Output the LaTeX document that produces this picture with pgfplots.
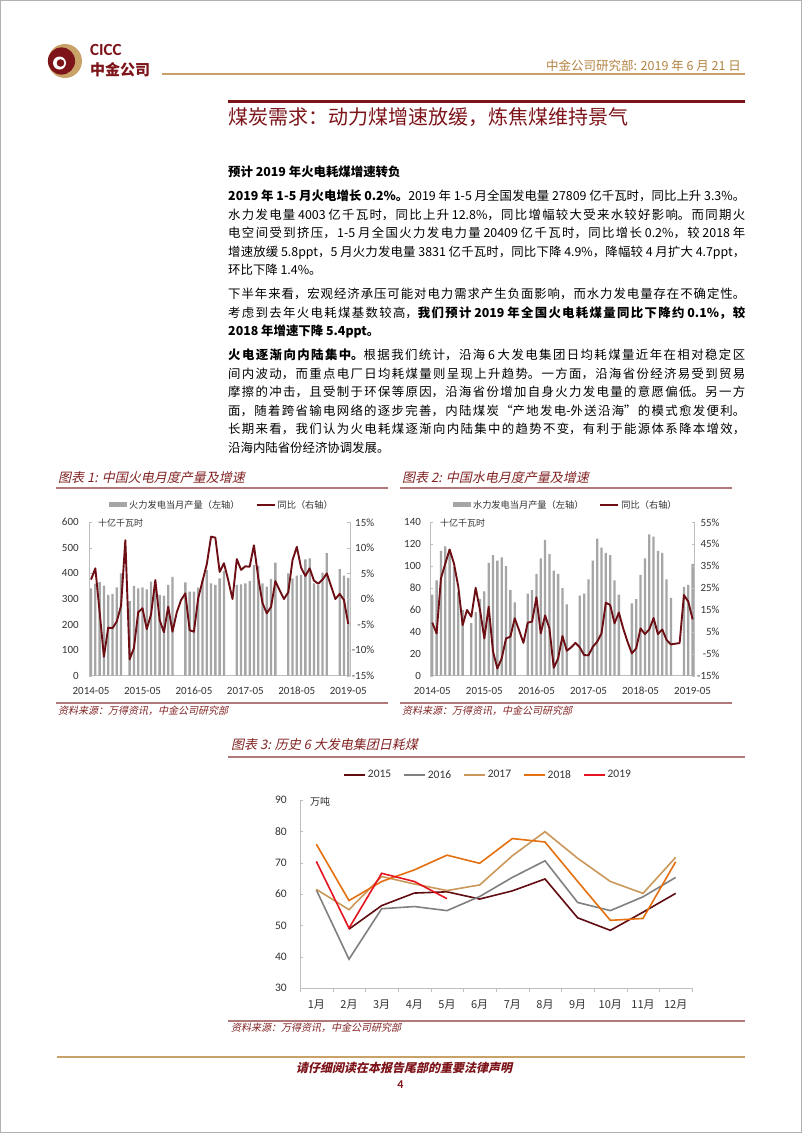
\documentclass[border=0pt]{standalone}
\usepackage{fontspec}
\usepackage{pgfplots}
\usepackage{pgfplotstable}
\pgfplotsset{compat=1.18}
\setmainfont{Carlito}
\newfontfamily\cjk{Noto Sans CJK SC}
\newfontfamily\cjkit[FakeSlant=0.22]{Noto Sans CJK SC}
\XeTeXlinebreaklocale "zh"
\definecolor{cred}{RGB}{125,20,26}
\definecolor{maroon}{RGB}{108,14,20}
\definecolor{gold}{RGB}{201,162,104}
\definecolor{goldtxt}{RGB}{180,130,64}
\definecolor{barg}{RGB}{166,166,166}
\definecolor{axg}{RGB}{190,190,190}
\definecolor{ttl}{RGB}{130,35,35}
\definecolor{rulec}{RGB}{176,120,120}
\definecolor{cA}{RGB}{96,12,16}
\definecolor{cB}{RGB}{128,128,128}
\definecolor{cC}{RGB}{202,152,90}
\definecolor{cD}{RGB}{228,112,16}
\definecolor{cE}{RGB}{230,20,32}
\newcommand{\bodyfont}{\cjk\fontsize{12.4}{14}\selectfont}
\newcommand{\jline}[2]{\node[anchor=base west, inner sep=0pt, text width=517pt, align=justify, font=\bodyfont] at (228pt,{-(#1+4.7)*1pt}) {\noindent\XeTeXlinebreakskip=0pt plus 1fil minus 1pt\parfillskip=0pt #2\par};}
\newcommand{\rline}[2]{\node[anchor=base west, inner sep=0pt, font=\bodyfont] at (228pt,{-(#1+4.7)*1pt}) {#2};}

\pgfplotstableread{
i bar yoy
0 342 3.8
1 360 6.0
2 366 -2.5
3 352 -11.3
4 316 -5.6
5 320 -5.7
6 346 -4.4
7 400 -1.3
8 nan 11.5
9 292 -11.8
10 351 -9.6
11 342 -2.6
12 346 -1.8
13 338 -5.9
14 368 -3.0
15 345 3.7
16 316 -4.1
17 313 -6.5
18 355 -1.5
19 387 -6.4
20 nan -2.6
21 nan -0.2
22 365 1.1
23 329 -6.1
24 329 -6.4
25 345 0.2
26 374 3.5
27 413 6.8
28 361 12.2
29 355 12.0
30 381 5.3
31 410 7.0
32 nan 3.7
33 nan 0.0
34 355 7.8
35 357 5.7
36 361 6.4
37 370 6.3
38 433 10.5
39 430 4.2
40 361 -0.8
41 348 -2.8
42 378 -1.5
43 442 3.5
44 nan 1.7
45 nan 0.0
46 400 1.3
47 381 7.6
48 391 10.2
49 394 6.1
50 455 4.5
51 459 6.0
52 361 3.6
53 355 3.0
54 403 3.8
55 479 5.0
56 nan 2.5
57 nan 0.0
58 417 1.0
59 391 -0.2
60 383 -4.9
}\thermal

\pgfplotstableread{
i bar yoy
0 74 9.2
1 87 4.3
2 114 29.4
3 118 36.2
4 115 42.6
5 99 36.2
6 76 25.6
7 60 8.1
8 nan 15.0
9 48 11.9
10 58 25.1
11 70 15.0
12 77 2.0
13 103 16.5
14 110 -4.0
15 105 -11.7
16 108 -7.1
17 100 2.0
18 78 2.8
19 67 11.2
20 nan 5.8
21 nan 0.0
22 75 9.2
23 78 9.7
24 93 20.8
25 107 4.3
26 124 12.5
27 111 6.6
28 96 -11.4
29 93 -7.1
30 80 3.1
31 65 -3.6
32 nan -2.1
33 nan 0.0
34 73 -2.1
35 75 -5.6
36 88 -5.7
37 105 -1.8
38 125 0.5
39 117 4.3
40 112 18.3
41 110 17.3
42 87 8.9
43 74 13.8
44 nan 6.6
45 nan 0.5
46 66 -4.8
47 70 -2.5
48 92 6.6
49 107 4.0
50 129 6.1
51 127 11.3
52 114 4.0
53 112 6.1
54 88 1.3
55 71 -0.7
56 nan -0.4
57 nan -0.1
58 81 21.8
59 83 18.8
60 102 10.7
}\hydro

\begin{document}
\begin{tikzpicture}
\useasboundingbox (0pt,0pt) rectangle (802pt,-1133pt);
\fill[white] (0pt,0pt) rectangle (802pt,-1133pt);
\draw[gray!60, line width=1pt] (0.5pt,-0.5pt) rectangle (801.5pt,-1132.5pt);

% header logo
\fill[gold] (65pt,-61pt) circle (17pt);
\fill[cred] (61.5pt,-61pt) circle (13.6pt);
\fill[white] (59.5pt,-63pt) circle (6.5pt);
\fill[cred] (60.5pt,-63pt) circle (3.8pt);
\node[anchor=west, inner sep=0pt, text=cred, font=\bfseries\fontsize{17}{18}\selectfont] at (90pt,-50pt) {CICC};
\node[anchor=west, inner sep=0pt, text=cred, font=\cjk\bfseries\fontsize{15}{16}\selectfont] at (90pt,-70pt) {中金公司};
\node[anchor=east, inner sep=0pt, text=goldtxt, font=\cjk\fontsize{12.5}{14}\selectfont] at (741pt,-66pt) {中金公司研究部: 2019 年 6 月 21 日};
\draw[gold, line width=2pt] (162pt,-74pt) -- (745pt,-74pt);
\draw[cred, line width=3pt] (228pt,-101pt) -- (745pt,-101pt);
\node[anchor=west, inner sep=0pt, text=cred, font=\cjk\fontsize{20}{22}\selectfont] at (228pt,-117pt) {煤炭需求：动力煤增速放缓，炼焦煤维持景气};

% body text
\rline{172}{\bfseries 预计 2019 年火电耗煤增速转负}
\jline{196}{{\bfseries 2019 年 1-5 月火电增长 0.2\%。}2019 年 1-5 月全国发电量 27809 亿千瓦时，同比上升 3.3\%。}
\jline{214.5}{水力发电量 4003 亿千瓦时，同比上升 12.8\%，同比增幅较大受来水较好影响。而同期火}
\jline{233}{电空间受到挤压，1-5 月全国火力发电力量 20409 亿千瓦时，同比增长 0.2\%，较 2018 年}
\jline{251.5}{增速放缓 5.8ppt，5 月火力发电量 3831 亿千瓦时，同比下降 4.9\%，降幅较 4 月扩大 4.7ppt，}
\rline{270}{环比下降 1.4\%。}
\jline{294}{下半年来看，宏观经济承压可能对电力需求产生负面影响，而水力发电量存在不确定性。}
\jline{312.5}{考虑到去年火电耗煤基数较高，{\bfseries 我们预计 2019 年全国火电耗煤量同比下降约 0.1\%，较}}
\rline{331}{\bfseries 2018 年增速下降 5.4ppt。}
\jline{355}{{\bfseries 火电逐渐向内陆集中。}根据我们统计，沿海 6 大发电集团日均耗煤量近年在相对稳定区}
\jline{373.5}{间内波动，而重点电厂日均耗煤量则呈现上升趋势。一方面，沿海省份经济易受到贸易}
\jline{392}{摩擦的冲击，且受制于环保等原因，沿海省份增加自身火力发电量的意愿偏低。另一方}
\jline{410.5}{面，随着跨省输电网络的逐步完善，内陆煤炭“产地发电-外送沿海”的模式愈发便利。}
\jline{429}{长期来看，我们认为火电耗煤逐渐向内陆集中的趋势不变，有利于能源体系降本增效，}
\rline{447.5}{沿海内陆省份经济协调发展。}

% chart frames
\node[anchor=west, inner sep=0pt, text=ttl, font=\cjkit\fontsize{13}{14}\selectfont] at (58pt,-478pt) {图表 1: 中国火电月度产量及增速};
\node[anchor=west, inner sep=0pt, text=ttl, font=\cjkit\fontsize{13}{14}\selectfont] at (402pt,-478pt) {图表 2: 中国水电月度产量及增速};
\node[anchor=west, inner sep=0pt, text=ttl, font=\cjkit\fontsize{13}{14}\selectfont] at (231pt,-745pt) {图表 3: 历史 6 大发电集团日耗煤};
\draw[rulec, line width=1.2pt] (56pt,-488pt) -- (388pt,-488pt);
\draw[rulec, line width=1.2pt] (400pt,-488pt) -- (732pt,-488pt);
\draw[rulec, line width=1.2pt] (228pt,-757pt) -- (745pt,-757pt);
\draw[rulec, line width=1.2pt] (56pt,-703pt) -- (388pt,-703pt);
\draw[rulec, line width=1.2pt] (400pt,-703pt) -- (732pt,-703pt);
\draw[rulec, line width=1.2pt] (228pt,-1021pt) -- (745pt,-1021pt);
\node[anchor=west, inner sep=0pt, text=ttl, font=\cjkit\fontsize{10}{11}\selectfont] at (58pt,-711pt) {资料来源：万得资讯，中金公司研究部};
\node[anchor=west, inner sep=0pt, text=ttl, font=\cjkit\fontsize{10}{11}\selectfont] at (402pt,-711pt) {资料来源：万得资讯，中金公司研究部};
\node[anchor=west, inner sep=0pt, text=ttl, font=\cjkit\fontsize{10}{11}\selectfont] at (231pt,-1028pt) {资料来源：万得资讯，中金公司研究部};
\node[anchor=west, inner sep=0pt, text=black!80, font=\cjk\fontsize{9}{10}\selectfont] at (98pt,-523pt) {十亿千瓦时};
\node[anchor=west, inner sep=0pt, text=black!80, font=\cjk\fontsize{9}{10}\selectfont] at (440pt,-523pt) {十亿千瓦时};
\node[anchor=west, inner sep=0pt, text=black!80, font=\cjk\fontsize{10}{11}\selectfont] at (310pt,-802pt) {万吨};

\pgfplotsset{
  dualbase/.style={anchor=south west, scale only axis, height=153.4pt,
    xmin=-0.5, xmax=60.5,
    axis line style={draw=axg, line width=0.8pt},
    tick align=inside, major tick length=3pt,
    ticklabel style={font=\fontsize{11}{12}\selectfont, text=black!80, inner sep=0pt}},
}

% chart 1 bars
\begin{axis}[dualbase, at={(88.9pt,-675.7pt)}, width=261.5pt,
  ymin=0, ymax=600,
  axis x line*=bottom, axis y line*=left,
  xtick={0,12,24,36,48,60},
  xticklabels={2014-05,2015-05,2016-05,2017-05,2018-05,2019-05},
  xticklabel style={anchor=center, yshift=-12.3pt},
  ytick={0,100,200,300,400,500,600}, yticklabels={0,100,200,300,400,500,600},
  yticklabel style={anchor=east, xshift=-10pt},
  xtick style={draw=none}, ytick style={draw=axg},
  ybar, bar width=2.3pt,
  legend style={at={(0.509,1.113)}, anchor=center, draw=none, fill=none, legend columns=2,
    font=\cjk\fontsize{9.2}{10}\selectfont, text=black!80,
    /tikz/every even column/.append style={column sep=14pt}},
  legend cell align=left]
\addplot[draw=none, fill=barg, legend image code/.code={\fill[barg] (0pt,-2.5pt) rectangle (18pt,2.5pt);}] table[x=i,y=bar]{\thermal};
\addlegendentry{火力发电当月产量（左轴）}
\addlegendimage{legend image code/.code={\draw[maroon, line width=2pt] (0pt,0pt) -- (18pt,0pt);}}
\addlegendentry{同比（右轴）}
\end{axis}
\begin{axis}[dualbase, at={(88.9pt,-675.7pt)}, width=261.5pt,
  ymin=-15, ymax=15,
  axis y line*=right, axis x line=none, xtick=\empty,
  ytick={-15,-10,-5,0,5,10,15}, yticklabels={-15\%,-10\%,-5\%,0\%,5\%,10\%,15\%},
  yticklabel style={anchor=east, xshift=24pt},
  ytick style={draw=axg}]
\addplot[maroon, line width=1.9pt, mark=none, line join=round] table[x=i,y=yoy]{\thermal};
\end{axis}

% chart 2 bars
\begin{axis}[dualbase, at={(430.1pt,-675.7pt)}, width=264.7pt,
  ymin=0, ymax=140,
  axis x line*=bottom, axis y line*=left,
  xtick={0,12,24,36,48,60},
  xticklabels={2014-05,2015-05,2016-05,2017-05,2018-05,2019-05},
  xticklabel style={anchor=center, yshift=-12.3pt},
  ytick={0,20,40,60,80,100,120,140}, yticklabels={0,20,40,60,80,100,120,140},
  yticklabel style={anchor=east, xshift=-9pt},
  xtick style={draw=none}, ytick style={draw=axg},
  ybar, bar width=2.3pt,
  legend style={at={(0.513,1.113)}, anchor=center, draw=none, fill=none, legend columns=2,
    font=\cjk\fontsize{9.2}{10}\selectfont, text=black!80,
    /tikz/every even column/.append style={column sep=14pt}},
  legend cell align=left]
\addplot[draw=none, fill=barg, legend image code/.code={\fill[barg] (0pt,-2.5pt) rectangle (18pt,2.5pt);}] table[x=i,y=bar]{\hydro};
\addlegendentry{水力发电当月产量（左轴）}
\addlegendimage{legend image code/.code={\draw[maroon, line width=2pt] (0pt,0pt) -- (18pt,0pt);}}
\addlegendentry{同比（右轴）}
\end{axis}
\begin{axis}[dualbase, at={(430.1pt,-675.7pt)}, width=264.7pt,
  ymin=-15, ymax=55,
  axis y line*=right, axis x line=none, xtick=\empty,
  ytick={-15,-5,5,15,25,35,45,55}, yticklabels={-15\%,-5\%,5\%,15\%,25\%,35\%,45\%,55\%},
  yticklabel style={anchor=east, xshift=25pt},
  ytick style={draw=axg}]
\addplot[maroon, line width=1.9pt, mark=none, line join=round] table[x=i,y=yoy]{\hydro};
\end{axis}

% chart 3
\begin{axis}[at={(300pt,-988pt)}, anchor=south west, scale only axis,
  width=392pt, height=188pt,
  xmin=0.5, xmax=12.5, ymin=30, ymax=90,
  axis x line*=bottom, axis y line*=left,
  axis line style={draw=axg, line width=0.9pt},
  xtick={1,2,3,4,5,6,7,8,9,10,11,12},
  xticklabels={1月,2月,3月,4月,5月,6月,7月,8月,9月,10月,11月,12月},
  xticklabel style={font=\cjk\fontsize{11}{12}\selectfont, text=black!80, inner sep=0pt, anchor=center, yshift=-16.3pt},
  xtick style={draw=none},
  extra x ticks={0.5,1.5,2.5,3.5,4.5,5.5,6.5,7.5,8.5,9.5,10.5,11.5,12.5},
  extra x tick labels={},
  extra x tick style={xtick style={draw=axg}, tick align=outside, major tick length=4pt},
  ytick={30,40,50,60,70,80,90}, yticklabels={30,40,50,60,70,80,90},
  yticklabel style={font=\fontsize{11.5}{12}\selectfont, text=black!80, inner sep=0pt, anchor=east, xshift=-13pt},
  ytick style={draw=axg}, tick align=inside, major tick length=3pt,
  legend style={at={(0.48,1.133)}, anchor=center, draw=none, fill=none, legend columns=5,
    font=\fontsize{11.5}{12}\selectfont, text=black!80,
    /tikz/every even column/.append style={column sep=10pt}},
  legend image code/.code={\draw[#1, line width=1.6pt] (0pt,0pt) -- (21pt,0pt);}]
\addplot[cA, line width=1.6pt, mark=none] coordinates {(2,48.8) (3,56.3) (4,60.3) (5,60.7) (6,58.4) (7,61.0) (8,64.8) (9,52.4) (10,48.4) (11,54.2) (12,60.2)};
\addlegendentry{2015}
\addplot[cB, line width=1.6pt, mark=none] coordinates {(1,61.3) (2,39.2) (3,55.3) (4,56.0) (5,54.7) (6,59.2) (7,65.3) (8,70.6) (9,57.3) (10,54.7) (11,59.1) (12,65.3)};
\addlegendentry{2016}
\addplot[cC, line width=1.6pt, mark=none] coordinates {(1,61.5) (2,55.0) (3,65.6) (4,63.2) (5,61.1) (6,62.9) (7,72.2) (8,79.9) (9,71.4) (10,64.0) (11,60.2) (12,71.7)};
\addlegendentry{2017}
\addplot[cD, line width=1.6pt, mark=none] coordinates {(1,75.9) (2,57.9) (3,64.0) (4,67.7) (5,72.4) (6,69.8) (7,77.7) (8,76.6) (9,64.0) (10,51.6) (11,52.2) (12,70.3)};
\addlegendentry{2018}
\addplot[cE, line width=1.6pt, mark=none] coordinates {(1,70.4) (2,49.1) (3,66.6) (4,64.0) (5,58.5)};
\addlegendentry{2019}
\end{axis}

% footer
\draw[gold, line width=2.5pt] (57pt,-1057pt) -- (745pt,-1057pt);
\node[inner sep=0pt, text=cred, font=\cjkit\bfseries\fontsize{12}{14}\selectfont] at (404pt,-1068pt) {请仔细阅读在本报告尾部的重要法律声明};
\node[inner sep=0pt, text=cred, font=\bfseries\fontsize{12}{14}\selectfont] at (400.5pt,-1085pt) {4};
\end{tikzpicture}
\end{document}
